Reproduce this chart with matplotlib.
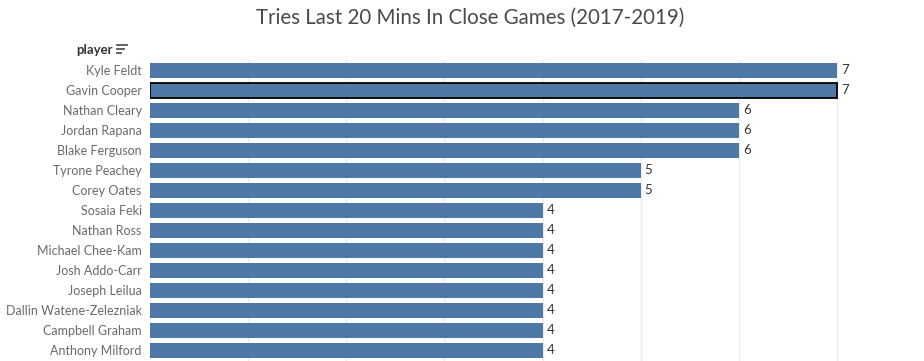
import matplotlib
matplotlib.use("Agg")
import matplotlib.pyplot as plt
from matplotlib.lines import Line2D

players = ["Kyle Feldt", "Gavin Cooper", "Nathan Cleary", "Jordan Rapana", "Blake Ferguson",
           "Tyrone Peachey", "Corey Oates", "Sosaia Feki", "Nathan Ross", "Michael Chee-Kam",
           "Josh Addo-Carr", "Joseph Leilua", "Dallin Watene-Zelezniak", "Campbell Graham",
           "Anthony Milford"]
tries = [7, 7, 6, 6, 6, 5, 5, 4, 4, 4, 4, 4, 4, 4, 4]
selected = "Gavin Cooper"
title = "Tries Last 20 Mins In Close Games (2017-2019)"
header = "player"

W, H = 924, 361
fig = plt.figure(figsize=(W / 100, H / 100), dpi=100)
plt.rcParams['font.family'] = ['Lato', 'DejaVu Sans']

left_px, top_px, right_px, bottom_px = 150, 60, 924, 361
ax = fig.add_axes([left_px / W, 1 - bottom_px / H, (right_px - left_px) / W, (bottom_px - top_px) / H])

unit_px = (837 - 150) / 7.0
ax.set_xlim(0, (right_px - left_px) / unit_px)
ax.set_ylim((bottom_px - top_px) / 20.0 - 0.5, -0.5)

bar_color = "#4e79a7"
for i, (p, v) in enumerate(zip(players, tries)):
    ec = "black" if p == selected else "none"
    lw = 1.3 if p == selected else 0
    ax.barh(i, v, height=0.75, color=bar_color, edgecolor=ec, linewidth=lw, zorder=3)
    ax.text(v + 0.04, i, str(v), va="center", ha="left", fontsize=9.5, color="#333333", zorder=4)

for k in range(1, 8):
    ax.axvline(k, color="#ececec", linewidth=1, zorder=1)

ax.set_yticks(range(len(players)))
ax.set_yticklabels(players, fontsize=9.0, color="#6a6a6a")
ax.tick_params(axis="y", length=0, pad=6)
ax.set_xticks([])
for s in ax.spines.values():
    s.set_visible(False)

fig.text(470 / W, 1 - 18 / H, title, ha="center", va="center", fontsize=14.8, color="#4a4a4a")
fig.text(113 / W, 1 - 50 / H, header, ha="right", va="center", fontsize=9.5, color="#333333", fontweight="bold")

# sort icon
ix = 117 / W
for j, (yy, ln) in enumerate([(45, 10), (49, 7), (53, 4)]):
    fig.add_artist(Line2D([ix, ix + ln / W], [1 - yy / H, 1 - yy / H], color="#555555", linewidth=1.3))

fig.savefig("out.png", dpi=100)
